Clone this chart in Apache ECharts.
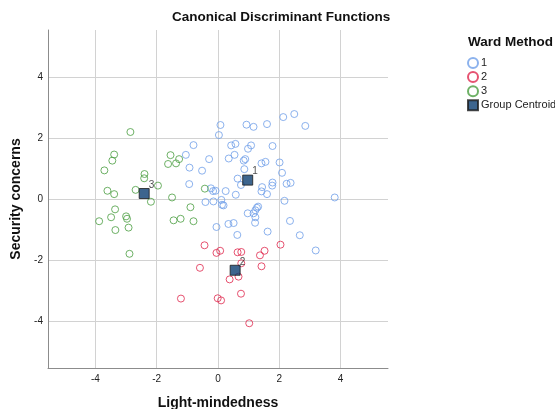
<!DOCTYPE html>
<html>
<head>
<meta charset="utf-8">
<script src="https://cdn.jsdelivr.net/npm/echarts@6/dist/echarts.min.js"></script>
<style>
  html, body { margin: 0; padding: 0; background: #ffffff; }
  #chart { width: 555px; height: 409px; }
</style>
</head>
<body>
<div id="chart"></div>
<script>
// Discriminant scores per case: [Function 1, Function 2]
var ward1 = [
  [2.49, 2.79], [2.13, 2.69], [2.85, 2.40], [0.08, 2.43], [0.93, 2.44],
  [1.16, 2.37], [1.60, 2.46], [0.03, 2.10], [0.43, 1.76], [0.57, 1.81],
  [1.08, 1.76], [0.98, 1.65], [1.78, 1.74], [0.35, 1.33], [0.54, 1.45],
  [0.84, 1.26], [0.89, 1.31], [1.42, 1.17], [1.55, 1.22], [2.01, 1.20],
  [0.86, 0.98], [2.09, 0.86], [0.64, 0.67], [0.75, 0.46], [1.44, 0.39],
  [1.78, 0.54], [1.77, 0.44], [2.24, 0.50], [2.37, 0.53], [1.42, 0.25],
  [1.60, 0.16], [0.58, 0.14], [0.25, 0.26], [-0.16, 0.26], [-0.08, 0.27],
  [-0.23, 0.35], [3.81, 0.05], [-0.80, 1.77], [-1.05, 1.45], [-0.93, 1.03],
  [-0.52, 0.93], [-0.29, 1.31], [-0.94, 0.49], [-0.41, -0.10], [-0.15, -0.08],
  [0.11, -0.03], [0.13, -0.19], [0.18, -0.21], [-0.05, -0.92], [0.34, -0.82],
  [0.51, -0.79], [0.63, -1.18], [0.97, -0.47], [1.16, -0.47], [1.22, -0.37],
  [1.27, -0.29], [1.31, -0.25], [1.22, -0.60], [1.21, -0.78], [1.62, -1.07],
  [2.17, -0.06], [2.35, -0.72], [2.67, -1.19], [3.19, -1.69]
];
var ward2 = [
  [2.04, -1.50], [-0.05, -1.77], [0.07, -1.70], [0.64, -1.75], [0.76, -1.74],
  [1.52, -1.70], [1.37, -1.85], [1.42, -2.21], [0.76, -2.11], [0.67, -2.55],
  [0.38, -2.64], [0.75, -3.11], [-0.01, -3.26], [0.10, -3.33], [1.02, -4.08],
  [-0.44, -1.52], [-0.59, -2.26], [-1.21, -3.27]
];
var ward3 = [
  [-2.86, 2.20], [-3.39, 1.46], [-3.45, 1.26], [-3.71, 0.94], [-2.40, 0.82],
  [-2.41, 0.68], [-1.55, 1.44], [-1.63, 1.15], [-1.37, 1.17], [-1.27, 1.31],
  [-3.61, 0.27], [-3.39, 0.16], [-2.69, 0.30], [-1.96, 0.44], [-2.19, -0.09],
  [-1.50, 0.05], [-3.36, -0.34], [-3.49, -0.60], [-3.88, -0.73], [-3.00, -0.57],
  [-2.97, -0.65], [-3.35, -1.02], [-2.92, -0.94], [-1.45, -0.70], [-1.22, -0.65],
  [-2.89, -1.80], [-0.90, -0.27], [-0.80, -0.73], [-0.43, 0.34]
];
// Group centroids: [Function 1, Function 2, cluster]
var centroids = [
  [0.97, 0.62, '1'],
  [0.56, -2.34, '2'],
  [-2.41, 0.18, '3']
];
var groupNames = ['1', '2', '3', 'Group Centroid'];
var axisRange = [-5.55, 5.55];

var colors = ['#6f9fe8', '#e0284e', '#4a9e40'];
var font = 'Arial, "Liberation Sans", sans-serif';

function caseSeries(name, data, color) {
  return {
    name: name,
    type: 'scatter',
    data: data,
    symbol: 'circle',
    symbolSize: 7,
    itemStyle: { color: 'rgba(255,255,255,0)', borderColor: color, borderWidth: 1 },
    emphasis: { disabled: true }
  };
}

function valueAxis(name, gap, rotate, labelMargin) {
  return {
    type: 'value',
    min: axisRange[0],
    max: axisRange[1],
    splitNumber: 5,
    name: name,
    nameLocation: 'middle',
    nameGap: gap,
    nameRotate: rotate,
    nameTextStyle: { fontFamily: font, fontWeight: 'bold', fontSize: 14, color: '#111' },
    axisLine: { show: true, onZero: false, lineStyle: { color: '#8c8c8c', width: 1 } },
    axisTick: { show: false },
    axisLabel: {
      fontFamily: font, fontSize: 10, color: '#222', margin: labelMargin,
      showMinLabel: false, showMaxLabel: false,
      formatter: function (v) { return Math.abs(v - Math.round(v)) < 1e-6 ? String(Math.round(v)) : ''; }
    },
    splitLine: { show: true, showMinLine: false, showMaxLine: false, lineStyle: { color: '#d2d2d2', width: 1 } }
  };
}

var chart = echarts.init(document.getElementById('chart'), null, { renderer: 'canvas' });
chart.setOption({
  animation: false,
  backgroundColor: '#ffffff',
  title: [
    {
      text: 'Canonical Discriminant Functions',
      left: 172, top: 10, padding: 0,
      textStyle: { fontFamily: font, fontWeight: 'bold', fontSize: 13.5, color: '#111' }
    },
    {
      text: 'Ward Method',
      left: 468, top: 35, padding: 0,
      textStyle: { fontFamily: font, fontWeight: 'bold', fontSize: 13.5, color: '#111' }
    }
  ],
  legend: {
    orient: 'vertical',
    left: 467, top: 57,
    itemWidth: 10, itemHeight: 10, itemGap: 2.1,
    selectedMode: false,
    data: groupNames,
    textStyle: { fontFamily: font, fontSize: 11, lineHeight: 10, color: '#222', padding: [0, 0, 0, -2] },
    padding: 0
  },
  grid: { left: 48, right: 167, top: 30, bottom: 41, containLabel: false, outerBoundsMode: 'none' },
  xAxis: valueAxis('Light-mindedness', 28, 0, 6),
  yAxis: valueAxis('Security concerns', 16, 90, 5),
  series: [
    caseSeries(groupNames[0], ward1, colors[0]),
    caseSeries(groupNames[1], ward2, colors[1]),
    caseSeries(groupNames[2], ward3, colors[2]),
    {
      name: groupNames[3],
      type: 'scatter',
      data: centroids,
      symbol: 'rect',
      symbolSize: 10,
      z: 5,
      itemStyle: { color: '#0d3f72', borderColor: '#1c1c1c', borderWidth: 1 },
      label: {
        show: true,
        position: [10, -8],
        formatter: function (p) { return p.value[2]; },
        fontFamily: font, fontSize: 10, color: '#222'
      },
      emphasis: { disabled: true }
    }
  ]
});
</script>
</body>
</html>
